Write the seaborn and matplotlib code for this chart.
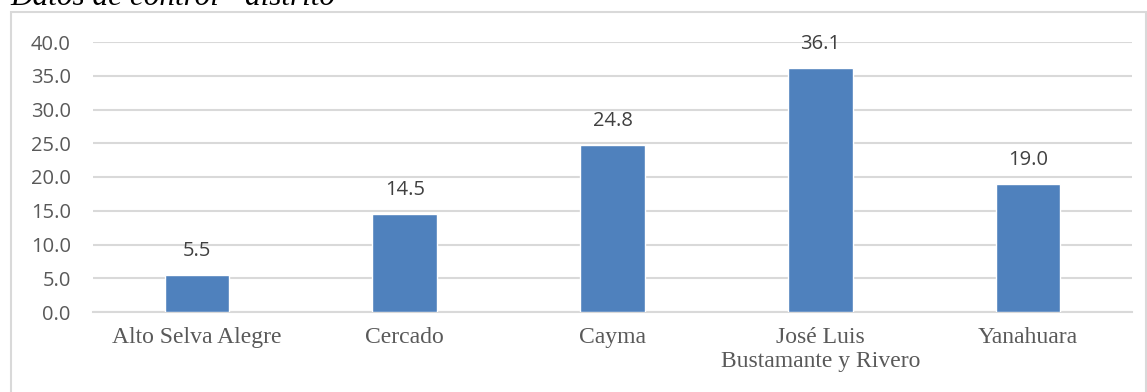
import matplotlib
matplotlib.use("Agg")
import matplotlib.pyplot as plt
import matplotlib.patches as mpatches
import seaborn as sns
import pandas as pd

categories = ["Alto Selva Alegre", "Cercado", "Cayma", "José Luis\nBustamante y Rivero", "Yanahuara"]
values = [5.5, 14.5, 24.8, 36.1, 19.0]
yticks = [0, 5, 10, 15, 20, 25, 30, 35, 40]
title = "Datos de control - distrito"

df = pd.DataFrame({"distrito": categories, "valor": values})

sns.set_theme(style="white")
plt.rcParams["font.family"] = ["Open Sans", "DejaVu Sans"]

W, H = 1147, 392
fig = plt.figure(figsize=(W / 100, H / 100), dpi=100)
ax = fig.add_axes([93 / W, 80 / H, (1132 - 93) / W, (312 - 42) / H])

sns.barplot(data=df, x="distrito", y="valor", color="#4F81BD", width=0.31,
            saturation=1, ax=ax, zorder=3)

ax.set_ylim(0, 40)
ax.set_xlim(-0.5, len(categories) - 0.5)
ax.set_yticks(yticks)
ax.set_yticklabels([f"{t:.1f}" for t in yticks], fontsize=14.5, color="#595959")
ax.yaxis.grid(True, color="#D9D9D9", linewidth=1.5, zorder=0)
ax.set_axisbelow(True)
for s in ["top", "right", "left"]:
    ax.spines[s].set_visible(False)
ax.spines["bottom"].set_color("#D9D9D9")
ax.spines["bottom"].set_linewidth(1.5)
ax.tick_params(axis="both", length=0)
ax.tick_params(axis="y", pad=16)
ax.tick_params(axis="x", pad=11)
ax.set_xlabel("")
ax.set_ylabel("")
ax.set_xticks(range(len(categories)))
ax.set_xticklabels(categories, fontfamily="Liberation Serif", fontsize=17,
                   color="#595959", linespacing=1.15)

for i, v in enumerate(values):
    ax.annotate(f"{v:.1f}", (i, v), xytext=(0, 10), textcoords="offset points",
                ha="center", va="bottom", fontsize=14.5, color="#404040")

# chart border
rect = mpatches.Rectangle((11 / W, -0.1), (1146 - 11) / W, (1 - 12 / H) + 0.1,
                          transform=fig.transFigure, fill=False,
                          edgecolor="#D9D9D9", linewidth=1.5, clip_on=False)
fig.patches.append(rect)

fig.text(10 / W, 1 - 5 / H, title, fontfamily="Liberation Serif", style="italic",
         fontsize=22.5, color="#000000", ha="left", va="baseline")

fig.savefig("out.png", dpi=100)
